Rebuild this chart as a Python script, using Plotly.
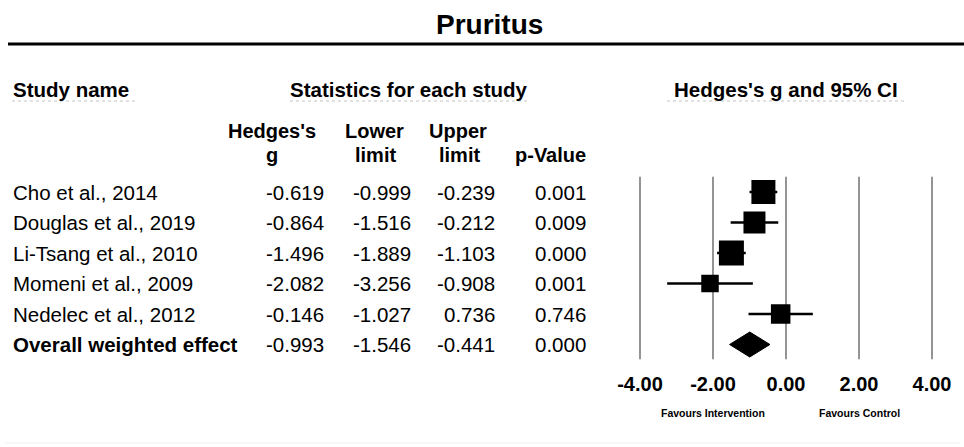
import plotly.graph_objects as go

# ---------------- data ----------------
studies = ["Cho et al., 2014", "Douglas et al., 2019", "Li-Tsang et al., 2010",
           "Momeni et al., 2009", "Nedelec et al., 2012"]
hedges_g = [-0.619, -0.864, -1.496, -2.082, -0.146]
lower = [-0.999, -1.516, -1.889, -3.256, -1.027]
upper = [-0.239, -0.212, -1.103, -0.908, 0.736]
p_values = [0.001, 0.009, 0.000, 0.001, 0.746]
overall_label = "Overall weighted effect"
overall_g = -0.993
overall_lower = -1.546
overall_upper = -0.441
overall_p = 0.000
study_weights_px = [24, 22, 25, 17.5, 19.5]  # square sizes as drawn
tick_vals = [-4, -2, 0, 2, 4]
tick_text = ["-4.00", "-2.00", "0.00", "2.00", "4.00"]

W, H = 964, 447
FONT = "Liberation Sans, Arial, sans-serif"

def py(px):
    return 1 - px / H

def px_x(px):
    return px / W

fig = go.Figure()

rows = list(range(len(studies)))
overall_row = len(studies)

# CI lines + squares
fig.add_trace(go.Scatter(
    x=hedges_g, y=rows, mode="markers",
    marker=dict(symbol="square", size=study_weights_px, color="black", opacity=1,
                line=dict(width=0)),
    error_x=dict(type="data", symmetric=False,
                 array=[u - g for u, g in zip(upper, hedges_g)],
                 arrayminus=[g - l for g, l in zip(hedges_g, lower)],
                 color="black", thickness=2.5, width=0),
    showlegend=False, hoverinfo="skip"))

# Overall diamond
h = 0.41
fig.add_trace(go.Scatter(
    x=[overall_lower, overall_g, overall_upper, overall_g, overall_lower],
    y=[overall_row, overall_row - h, overall_row, overall_row + h, overall_row],
    mode="lines", fill="toself", fillcolor="black",
    line=dict(color="black", width=1), showlegend=False, hoverinfo="skip"))

shapes = []
# vertical reference lines
for v in tick_vals:
    shapes.append(dict(type="line", xref="x", yref="y", x0=v, x1=v,
                       y0=-0.5, y1=overall_row + 0.48,
                       line=dict(color="#7a7a7a", width=1.6), layer="below"))
# title rule
shapes.append(dict(type="line", xref="paper", yref="paper",
                   x0=px_x(8), x1=1, y0=py(44), y1=py(44),
                   line=dict(color="black", width=3)))
# header underlines
for x0, x1 in [(12, 137), (290, 528), (667, 907)]:
    shapes.append(dict(type="line", xref="paper", yref="paper",
                       x0=px_x(x0), x1=px_x(x1), y0=py(101), y1=py(101),
                       line=dict(color="#c4c4c4", width=1, dash="dot")))
# faint bottom rule
shapes.append(dict(type="line", xref="paper", yref="paper",
                   x0=px_x(5), x1=px_x(960), y0=py(443), y1=py(443),
                   line=dict(color="#f0f0f0", width=1)))

ann = []
def A(text, x, y, size, bold=False, xanchor="center", xref="paper", yref="paper", yanchor="middle"):
    ann.append(dict(text=f"<b>{text}</b>" if bold else text, x=x, y=y, xref=xref, yref=yref,
                    xanchor=xanchor, yanchor=yanchor, showarrow=False,
                    font=dict(family=FONT, size=size, color="black")))

A("Pruritus", px_x(489), py(25), 28, bold=True)
A("Study name", px_x(11), py(90), 20.5, bold=True, xanchor="left")
A("Statistics for each study", px_x(409), py(90), 20.5, bold=True)
A("Hedges's g and 95% CI", px_x(786), py(90), 20.5, bold=True)

for txt, cx in [("Hedges's", 272), ("Lower", 374), ("Upper", 458)]:
    A(txt, px_x(cx), py(131), 20, bold=True)
A("g", px_x(272), py(155), 20, bold=True)
A("limit", px_x(375), py(155), 20, bold=True)
A("limit", px_x(459), py(155), 20, bold=True)
A("p-Value", px_x(550), py(155), 20, bold=True)

col_right = [326, 413, 497, 588]
for i, name in enumerate(studies):
    A(name, px_x(11), i, 20.5, xanchor="left", yref="y")
    vals = [f"{hedges_g[i]:.3f}", f"{lower[i]:.3f}", f"{upper[i]:.3f}", f"{p_values[i]:.3f}"]
    for v, xr in zip(vals, col_right):
        A(v, px_x(xr), i, 20.5, xanchor="right", yref="y")
A(overall_label, px_x(11), overall_row, 20.5, bold=True, xanchor="left", yref="y")
for v, xr in zip([f"{overall_g:.3f}", f"{overall_lower:.3f}", f"{overall_upper:.3f}", f"{overall_p:.3f}"], col_right):
    A(v, px_x(xr), overall_row, 20.5, xanchor="right", yref="y")

A("Favours Intervention", -2, py(413), 10.5, bold=True, xref="x")
A("Favours Control", 2, py(413), 10.5, bold=True, xref="x")

# axis geometry: -4 at px 640, 4 at px 932 ; rows at 192 + 30.5*i
ppu = (932 - 640) / 8.0
x_lo = -4 - (640 - 600) / ppu
x_hi = 4 + (964 - 932) / ppu
bottom_px = 370
row_px = 30.5
y_top = -192 / row_px
y_bot = (bottom_px - 192) / row_px

fig.update_layout(
    width=W, height=H,
    margin=dict(l=0, r=0, t=0, b=0),
    paper_bgcolor="white", plot_bgcolor="white",
    xaxis=dict(domain=[px_x(600), 1], range=[x_lo, x_hi], showgrid=False, zeroline=False,
               showline=False, tickmode="array", tickvals=tick_vals,
               ticktext=[f"<b>{t}</b>" for t in tick_text],
               ticks="", tickfont=dict(family=FONT, size=20, color="black"),
               fixedrange=True),
    yaxis=dict(domain=[py(bottom_px), 1], range=[y_bot, y_top], showgrid=False,
               zeroline=False, showline=False, showticklabels=False, fixedrange=True),
    shapes=shapes, annotations=ann,
    font=dict(family=FONT),
)

fig.write_html("out.html", config={"displayModeBar": False},
               post_script="document.body.style.margin='0';document.body.style.overflow='hidden';")
